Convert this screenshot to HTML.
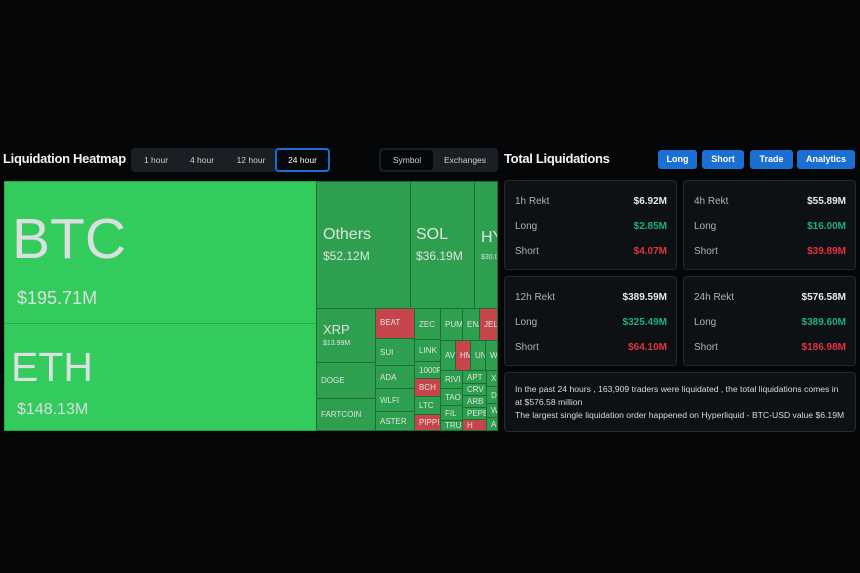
<!DOCTYPE html>
<html><head><meta charset="utf-8"><style>
*{margin:0;padding:0;box-sizing:border-box}
body{width:860px;height:573px;background:#050607;position:relative;overflow:hidden;font-family:"Liberation Sans",sans-serif;color:#e6e6e6}
.a{position:absolute}
.c{position:absolute;background:#2e9e4f;border:1px solid #1d6e36;color:#dfe5e0;font-size:8px;overflow:hidden;white-space:nowrap;padding:0 0 0 4px;display:flex;align-items:center}
.r{background:#c6444b}
.b{background:#33cc5c;border-color:#27a84a}
.tab{position:absolute;font-size:8.5px;color:#d0d0d0;text-align:center;line-height:20px}
.btn{position:absolute;background:#1a6fd0;color:#fff;font-size:9px;font-weight:bold;text-align:center;border-radius:3px;line-height:19px;top:150px;height:19px}
.card{position:absolute;background:#0d1015;border:1px solid #262a30;border-radius:4px}
.row{position:absolute;left:10px;right:9px;font-size:10px;color:#aeb3b8;display:flex;justify-content:space-between}
.row span:last-child{font-weight:bold}
.w{color:#e8e8e8}.g{color:#1fae84}.rd{color:#e2343f}
</style></head><body>
<div class="a" style="left:3px;top:151px;font-size:13px;font-weight:bold;color:#f2f2f2;letter-spacing:-0.3px">Liquidation Heatmap</div>
<div class="a" style="left:131px;top:148px;width:199px;height:24px;background:#1b1e24;border-radius:4px"></div>
<div class="tab" style="left:136px;top:150px;width:40px">1 hour</div>
<div class="tab" style="left:182px;top:150px;width:40px">4 hour</div>
<div class="tab" style="left:229px;top:150px;width:44px">12 hour</div>
<div class="a" style="left:275px;top:148px;width:55px;height:24px;background:#07090c;border:2px solid #1a6fd0;border-radius:4px"></div>
<div class="tab" style="left:275px;top:150px;width:55px;color:#fff">24 hour</div>
<div class="a" style="left:379px;top:148px;width:119px;height:24px;background:#1b1e24;border-radius:4px"></div>
<div class="a" style="left:381px;top:150px;width:52px;height:20px;background:#05070a;border-radius:3px"></div>
<div class="tab" style="left:381px;top:150px;width:52px">Symbol</div>
<div class="tab" style="left:435px;top:150px;width:60px">Exchanges</div>

<div class="c b" style="left:4px;top:181px;width:313px;height:143px;display:block;padding:0"><div class="a" style="left:7px;top:24px;font-size:57px;color:#dcdfe0">BTC</div><div class="a" style="left:12px;top:106px;font-size:18px;color:#dcdfe0">$195.71M</div></div>
<div class="c b" style="left:4px;top:323px;width:313px;height:108px;display:block;padding:0"><div class="a" style="left:6px;top:20px;font-size:41px;color:#dcdfe0">ETH</div><div class="a" style="left:12px;top:77px;font-size:16px;color:#dcdfe0">$148.13M</div></div>
<div class="c" style="left:316px;top:181px;width:95px;height:128px;display:block;padding:0"><div class="a" style="left:6px;top:44px;font-size:16px">Others</div><div class="a" style="left:6px;top:67px;font-size:12px">$52.12M</div></div>
<div class="c" style="left:410px;top:181px;width:65px;height:128px;display:block;padding:0"><div class="a" style="left:5px;top:44px;font-size:16px">SOL</div><div class="a" style="left:5px;top:67px;font-size:12px">$36.19M</div></div>
<div class="c" style="left:474px;top:181px;width:24px;height:128px;display:block;padding:0"><div class="a" style="left:6px;top:47px;font-size:16px">HY</div><div class="a" style="left:6px;top:72px;font-size:7px">$30.0</div></div>
<div class="c" style="left:316px;top:308px;width:60px;height:55px;display:block;padding:0"><div class="a" style="left:6px;top:13px;font-size:13px">XRP</div><div class="a" style="left:6px;top:31px;font-size:7px">$13.99M</div></div>
<div class="c" style="left:316px;top:362px;width:60px;height:37px">DOGE</div>
<div class="c" style="left:316px;top:398px;width:60px;height:33px">FARTCOIN</div>
<div class="c r" style="left:375px;top:308px;width:40px;height:31px;align-items:flex-start;padding-top:9px">BEAT</div>
<div class="c" style="left:375px;top:338px;width:40px;height:28px">SUI</div>
<div class="c" style="left:375px;top:365px;width:40px;height:24px">ADA</div>
<div class="c" style="left:375px;top:388px;width:40px;height:24px">WLFI</div>
<div class="c" style="left:375px;top:411px;width:40px;height:20px">ASTER</div>
<div class="c" style="left:414px;top:308px;width:27px;height:32px">ZEC</div>
<div class="c" style="left:414px;top:339px;width:27px;height:23px">LINK</div>
<div class="c" style="left:414px;top:361px;width:27px;height:18px">1000F</div>
<div class="c r" style="left:414px;top:378px;width:27px;height:19px">BCH</div>
<div class="c" style="left:414px;top:396px;width:27px;height:19px">LTC</div>
<div class="c r" style="left:414px;top:414px;width:27px;height:17px">PIPPI</div>
<div class="c" style="left:440px;top:308px;width:23px;height:33px">PUM</div>
<div class="c" style="left:462px;top:308px;width:18px;height:33px">ENA</div>
<div class="c r" style="left:479px;top:308px;width:19px;height:33px">JEL</div>
<div class="c" style="left:440px;top:340px;width:16px;height:31px">AV</div>
<div class="c r" style="left:455px;top:340px;width:16px;height:31px">HM</div>
<div class="c" style="left:470px;top:340px;width:16px;height:31px">UN</div>
<div class="c" style="left:485px;top:340px;width:13px;height:31px">W</div>
<div class="c" style="left:440px;top:370px;width:23px;height:19px">RIVI</div>
<div class="c" style="left:440px;top:388px;width:23px;height:18px">TAO</div>
<div class="c" style="left:440px;top:405px;width:23px;height:16px">FIL</div>
<div class="c" style="left:440px;top:420px;width:23px;height:11px">TRU</div>
<div class="c" style="left:462px;top:370px;width:25px;height:14px">APT</div>
<div class="c" style="left:462px;top:383px;width:25px;height:13px">CRV</div>
<div class="c" style="left:462px;top:395px;width:25px;height:13px">ARB</div>
<div class="c" style="left:462px;top:407px;width:25px;height:13px">PEPE</div>
<div class="c r" style="left:462px;top:419px;width:25px;height:12px">H</div>
<div class="c" style="left:486px;top:370px;width:12px;height:17px">X</div>
<div class="c" style="left:486px;top:386px;width:12px;height:18px">D</div>
<div class="c" style="left:486px;top:403px;width:12px;height:15px">W</div>
<div class="c" style="left:486px;top:417px;width:12px;height:14px">A</div>

<div class="a" style="left:504px;top:151px;font-size:13px;font-weight:bold;color:#f2f2f2;letter-spacing:-0.3px">Total Liquidations</div>
<div class="btn" style="left:658px;width:39px">Long</div>
<div class="btn" style="left:702px;width:42px">Short</div>
<div class="btn" style="left:750px;width:43px">Trade</div>
<div class="btn" style="left:797px;width:58px">Analytics</div>

<div class="card" style="left:504px;top:180px;width:173px;height:90px">
<div class="row" style="top:15px"><span>1h Rekt</span><span class="w">$6.92M</span></div>
<div class="row" style="top:40px"><span>Long</span><span class="g">$2.85M</span></div>
<div class="row" style="top:65px"><span>Short</span><span class="rd">$4.07M</span></div></div>
<div class="card" style="left:683px;top:180px;width:173px;height:90px">
<div class="row" style="top:15px"><span>4h Rekt</span><span class="w">$55.89M</span></div>
<div class="row" style="top:40px"><span>Long</span><span class="g">$16.00M</span></div>
<div class="row" style="top:65px"><span>Short</span><span class="rd">$39.89M</span></div></div>
<div class="card" style="left:504px;top:276px;width:173px;height:90px">
<div class="row" style="top:15px"><span>12h Rekt</span><span class="w">$389.59M</span></div>
<div class="row" style="top:40px"><span>Long</span><span class="g">$325.49M</span></div>
<div class="row" style="top:65px"><span>Short</span><span class="rd">$64.10M</span></div></div>
<div class="card" style="left:683px;top:276px;width:173px;height:90px">
<div class="row" style="top:15px"><span>24h Rekt</span><span class="w">$576.58M</span></div>
<div class="row" style="top:40px"><span>Long</span><span class="g">$389.60M</span></div>
<div class="row" style="top:65px"><span>Short</span><span class="rd">$186.98M</span></div></div>
<div class="card" style="left:504px;top:372px;width:352px;height:60px">
<div class="a" style="left:10px;top:10px;font-size:8.6px;line-height:13px;color:#d8dbde;width:330px">In the past 24 hours , 163,909 traders were liquidated , the total liquidations comes in at $576.58 million<br>The largest single liquidation order happened on Hyperliquid - BTC-USD value $6.19M</div></div>
</body></html>
